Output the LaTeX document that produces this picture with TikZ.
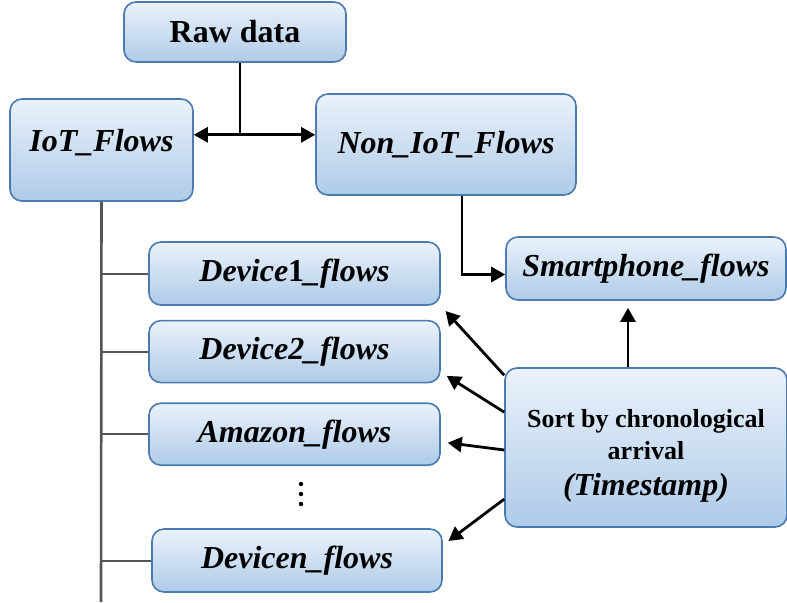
\documentclass[tikz,border=0pt]{standalone}
\usepackage{fontspec}
\setmainfont{Liberation Serif}
\usetikzlibrary{positioning,arrows.meta}
\definecolor{boxtop}{HTML}{EAF2FB}
\definecolor{boxbot}{HTML}{AFCBE8}
\definecolor{boxedge}{HTML}{4A7AB0}
\definecolor{trunkgray}{HTML}{555555}

\begin{document}
\begin{tikzpicture}[x=0.5pt,y=-0.5pt,
    flow/.style={draw=boxedge, line width=0.8pt, rounded corners=6pt,
                 top color=boxtop, bottom color=boxbot, inner sep=0pt,
                 font=\fontsize{16}{19}\selectfont\bfseries\itshape},
    arr/.style={-{Triangle[length=7pt,width=7.5pt]}, line width=1.4pt},
    branch/.style={trunkgray, line width=1pt}]
  \useasboundingbox (0,0) rectangle (787,602);

  % Define nodes
  \node[flow, minimum width=111pt, minimum height=30pt, font=\fontsize{16}{19}\selectfont\bfseries]
        (raw)    at (235,32)    {Raw data};
  \node[flow, minimum width=91.5pt, minimum height=51pt, text depth=10pt] (iot) at (101.5,150) {IoT\_Flows};
  \node[flow, minimum width=130pt, minimum height=50.5pt] (noniot) at (446,144.5) {Non\_IoT\_Flows};
  \node[flow, minimum width=140pt, minimum height=31.5pt] (smart)  at (646,268.5) {Smartphone\_flows};
  \node[flow, minimum width=145.5pt, minimum height=31.5pt] (dev1) at (294.5,273.5) {Device\textup{1}\_flows};
  \node[flow, minimum width=145.5pt, minimum height=31pt, below=7pt of dev1]  (dev2)   {Device2\_flows};
  \node[flow, minimum width=145.5pt, minimum height=31pt, below=9.5pt of dev2] (amazon) {Amazon\_flows};
  \coordinate (dots) at (301,494);
  \node[flow, minimum width=145pt, minimum height=31.5pt] (devn) at (297,560.5) {Devicen\_flows};
  \node[flow, minimum width=141pt, minimum height=79.5pt, align=center,
        font=\fontsize{13}{16}\selectfont\bfseries]
        (sort) at (646,447.5) {\rule{0pt}{17pt}Sort by chronological\\arrival\\[2pt]
        {\fontsize{16}{19}\selectfont\itshape(Timestamp)}};

  % the dots between the device boxes
  \foreach \d in {-10,0,10}
    \fill ([yshift=-\d*0.5pt]dots) circle (1.1pt);

  % Connect the nodes
  \draw[line width=1.4pt] ([xshift=2.5pt]raw.south) -- ++(0,72) coordinate (split);
  \draw[arr] (split) -- (split -| iot.east);
  \draw[arr] (split) -- (split -| noniot.west);
  \draw[arr] ([xshift=8pt]noniot.south) |- ([yshift=-3pt]smart.west);
  \draw[arr, shorten >=3.5pt] (sort.north -| 628,0) -- (smart.south -| 628,0);

  \draw[trunkgray, line width=1.3pt] (iot.south) -- (101,602) coordinate (trunkend);
  \foreach \dev in {dev1,dev2,amazon,devn}
    \draw[branch] (\dev.west -| trunkend) -- (\dev.west);

  \draw[arr, shorten >=3.5pt] (sort.153) -- (dev1.south east);
  \draw[arr, shorten >=3.5pt] (sort.166) -- (dev2.352);
  \draw[arr, shorten >=3.5pt] (sort.181) -- (amazon.357);
  \draw[arr, shorten >=3.5pt] (sort.200) -- (devn.6);
\end{tikzpicture}
\end{document}
